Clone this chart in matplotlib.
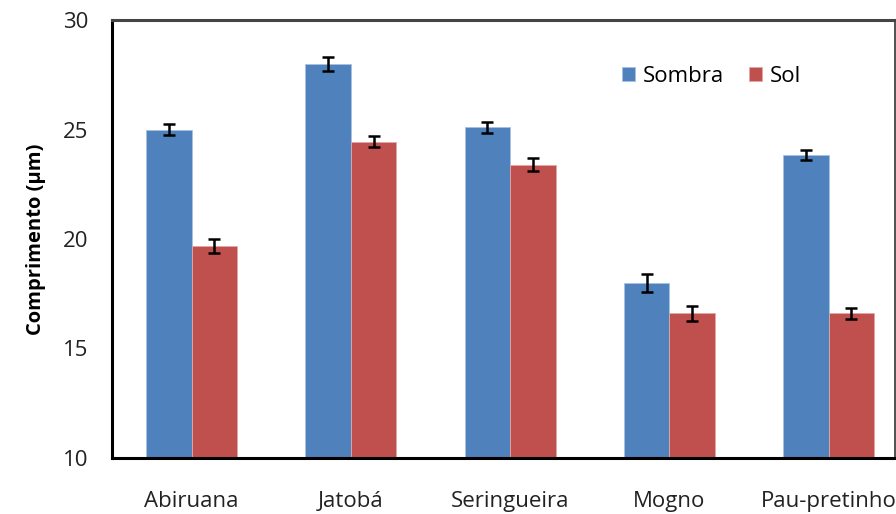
import matplotlib

matplotlib.use("Agg")
import matplotlib.pyplot as plt
import numpy as np

BLUE = "#4F81BD"
RED = "#C0504D"

species = ["Abiruana", "Jatobá", "Seringueira", "Mogno", "Pau-pretinho"]
sombra = [25.0, 28.0, 25.1, 18.0, 23.85]
sol = [19.7, 24.45, 23.4, 16.6, 16.6]
sombra_err = [0.25, 0.32, 0.25, 0.40, 0.23]
sol_err = [0.32, 0.27, 0.30, 0.34, 0.27]

plt.rcParams["font.family"] = ["Open Sans", "DejaVu Sans"]

fig = plt.figure(figsize=(8.96, 5.14), dpi=100)
ax = fig.add_axes([112 / 896, 1 - 458 / 514, (895 - 112) / 896, (458 - 20) / 514])

x = np.arange(len(species))
w = 0.286
err_kw = dict(ecolor="black", elinewidth=1.8, capsize=4, capthick=1.8)
ax.bar(x - w / 2, sombra, w, bottom=0, color=BLUE, edgecolor="#A9C1E0", linewidth=0.6,
       yerr=sombra_err, error_kw=err_kw, label="Sombra")
ax.bar(x + w / 2, sol, w, bottom=0, color=RED, edgecolor="#E0A9A8", linewidth=0.6,
       yerr=sol_err, error_kw=err_kw, label="Sol")

ax.set_ylim(10, 30)
ax.set_xlim(-0.5, (895 - 112) / 159.25 - 0.5)
ax.set_yticks([10, 15, 20, 25, 30])
ax.set_xticks(x)
ax.set_xticklabels(species)
ax.tick_params(axis="both", length=0, labelsize=16, colors="#222222")
ax.tick_params(axis="x", pad=24)
ax.tick_params(axis="y", pad=17)

ax.spines["left"].set_linewidth(2.2)
ax.spines["bottom"].set_linewidth(2.2)
ax.spines["top"].set_linewidth(2.2)
ax.spines["top"].set_color("#444444")
ax.spines["right"].set_linewidth(1.2)
ax.spines["right"].set_color("#333333")

ax.set_ylabel("Comprimento (µm)", fontsize=14.5, fontweight="bold", labelpad=12)

ax.legend(loc="upper left", bbox_to_anchor=((622 - 112) / 783, 1 - (66 - 20) / 438),
          frameon=False, ncol=2, fontsize=16, handlelength=0.6, handleheight=0.6,
          handletextpad=0.35, columnspacing=1.1, borderaxespad=0, borderpad=0)

fig.savefig("out.png", dpi=100)
